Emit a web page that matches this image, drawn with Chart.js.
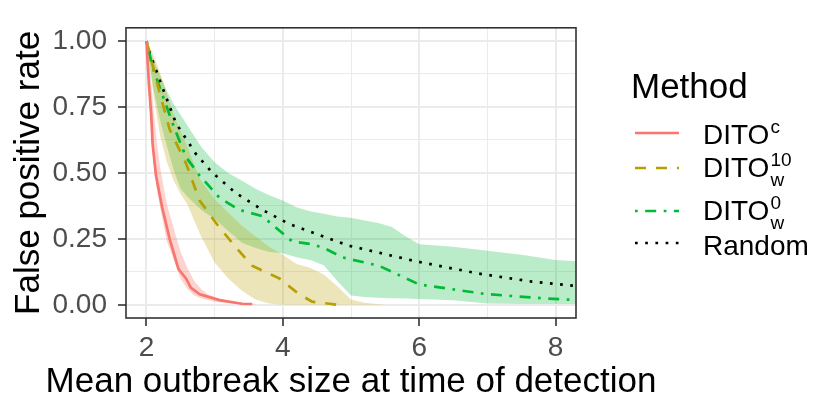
<!DOCTYPE html>
<html>
<head>
<meta charset="utf-8">
<script src="https://cdn.jsdelivr.net/npm/chart.js@4.4.1/dist/chart.umd.min.js"></script>
<style>
  html, body { margin: 0; padding: 0; background: #fff; }
  #wrap { position: relative; width: 814px; height: 405px; }
</style>
</head>
<body>
<div id="wrap"><canvas id="fprChart"></canvas></div>
<script>
// axis ticks (major + minor gridlines)
const xTicks = [2, 3, 4, 5, 6, 7, 8];
const yTicks = [0, 0.125, 0.25, 0.375, 0.5, 0.625, 0.75, 0.875, 1];

// DITO^c
const redX = [2.0, 2.035, 2.07, 2.09, 2.14, 2.23, 2.34, 2.47, 2.58, 2.65, 2.78, 3.07, 3.4, 3.55];
const redY = [1.0, 0.84, 0.72, 0.61, 0.49, 0.37, 0.25, 0.135, 0.10, 0.065, 0.04, 0.018, 0.004, 0.003];
const redBandX = [2.0, 2.05, 2.1, 2.15, 2.2, 2.3, 2.4, 2.5, 2.6, 2.7, 2.8, 2.9, 3.0, 3.2, 3.4, 3.6];
const redUpper = [1.0, 0.9, 0.75, 0.62, 0.52, 0.38, 0.29, 0.2, 0.14, 0.09, 0.06, 0.04, 0.03, 0.015, 0.008, 0.004];
const redLower = [1.0, 0.72, 0.55, 0.44, 0.37, 0.24, 0.17, 0.1, 0.06, 0.035, 0.025, 0.018, 0.012, 0.006, 0.002, 0.0];

// DITO_w^10
const mustardX = [2.0, 2.1, 2.19, 2.34, 2.58, 2.78, 3.02, 3.31, 3.55, 3.95, 4.24, 4.43, 4.68, 4.8];
const mustardY = [1.0, 0.9, 0.807, 0.665, 0.536, 0.395, 0.31, 0.218, 0.148, 0.10, 0.04, 0.012, 0.004, 0.0];
const mustardBandX = [2.0, 2.1, 2.2, 2.3, 2.4, 2.5, 2.6, 2.7, 2.8, 3.0, 3.2, 3.4, 3.6, 3.8, 4.0, 4.2, 4.4, 4.6, 4.8, 5.0, 5.2, 5.5];
const mustardUpper = [1.0, 0.95, 0.88, 0.8, 0.72, 0.66, 0.6, 0.53, 0.47, 0.4, 0.35, 0.3, 0.26, 0.22, 0.19, 0.155, 0.14, 0.115, 0.07, 0.02, 0.008, 0.0];
const mustardLower = [1.0, 0.8, 0.64, 0.54, 0.47, 0.42, 0.38, 0.32, 0.26, 0.16, 0.1, 0.053, 0.02, 0.005, 0, 0, 0, 0, 0, 0, 0, 0];

// DITO_w^0
const greenX = [2.0, 2.09, 2.38, 2.58, 2.78, 3.07, 3.36, 3.70, 4.14, 4.43, 4.63, 4.87, 5.41, 6.0, 6.97, 7.85, 8.3];
const greenY = [1.0, 0.90, 0.69, 0.56, 0.49, 0.406, 0.36, 0.336, 0.24, 0.23, 0.212, 0.18, 0.148, 0.077, 0.041, 0.024, 0.018];
const greenBandX = [2.0, 2.1, 2.2, 2.3, 2.4, 2.5, 2.6, 2.8, 3.0, 3.2, 3.4, 3.6, 3.8, 4.0, 4.2, 4.4, 4.6, 4.8, 5.0, 5.2, 5.4, 5.6, 5.8, 6.0, 6.5, 7.0, 7.5, 8.0, 8.3];
const greenUpper = [1.0, 0.93, 0.87, 0.81, 0.76, 0.72, 0.68, 0.6, 0.54, 0.5, 0.47, 0.44, 0.415, 0.395, 0.37, 0.355, 0.345, 0.335, 0.33, 0.32, 0.31, 0.295, 0.26, 0.23, 0.22, 0.205, 0.19, 0.17, 0.165];
const greenLower = [1.0, 0.82, 0.7, 0.6, 0.51, 0.44, 0.41, 0.36, 0.325, 0.28, 0.235, 0.215, 0.2, 0.195, 0.18, 0.17, 0.15, 0.09, 0.035, 0.03, 0.027, 0.025, 0.024, 0.022, 0.017, 0.005, 0.003, 0.003, 0.003];

// Random
const randomX = [2.0, 2.04, 2.24, 2.43, 2.73, 2.97, 3.31, 3.70, 4.09, 4.53, 4.97, 5.95, 6.88, 7.65, 8.24, 8.3];
const randomY = [1.0, 0.96, 0.82, 0.69, 0.57, 0.50, 0.424, 0.36, 0.307, 0.265, 0.224, 0.165, 0.118, 0.088, 0.073, 0.071];

// legend labels
const methodNames = ['DITO', 'DITO', 'DITO', 'Random'];
const methodSup = ['c', '10', '0', ''];
const methodSub = ['', 'w', 'w', ''];
const xTitle = 'Mean outbreak size at time of detection';

const FONT = '"Liberation Sans", Arial, sans-serif';
const RED = '#F8766D', MUSTARD = '#B79F00', GREEN = '#00BA38';
const lineW = 2.7;
const dashes = [[], [11, 10], [2.7, 7.5, 11, 7.5], [2.7, 7.5]];
const lineColors = [RED, MUSTARD, GREEN, '#000000'];

const pts = (xs, ys) => xs.map((x, i) => ({ x: x, y: ys[i] }));
const isMajorX = v => Math.abs(v % 2) < 1e-9;
const isMajorY = v => Math.abs(v * 4 - Math.round(v * 4)) < 1e-9;

function lineSet(xs, ys, k) {
  return {
    data: pts(xs, ys), borderColor: lineColors[k], borderWidth: lineW,
    borderDash: dashes[k], borderCapStyle: 'butt', pointRadius: 0, fill: false
  };
}
function bandEdge(xs, ys, fillColor) {
  return {
    data: pts(xs, ys), borderWidth: 0, borderColor: 'rgba(0,0,0,0)', pointRadius: 0,
    backgroundColor: fillColor, fill: fillColor ? '-1' : false
  };
}

// panel border, x title (wider than the panel) and the legend
const panelAndLegend = {
  id: 'panelAndLegend',
  afterDraw(chart) {
    const { ctx, chartArea: a } = chart;
    ctx.save();
    ctx.strokeStyle = '#333333';
    ctx.lineWidth = 1.6;
    ctx.strokeRect(a.left, a.top, a.right - a.left, a.bottom - a.top);

    ctx.fillStyle = '#000';
    ctx.textBaseline = 'alphabetic';
    ctx.font = '35px ' + FONT;
    ctx.textAlign = 'center';
    ctx.fillText(xTitle, (a.left + a.right) / 2, 392);
    ctx.textAlign = 'left';
    ctx.fillText('Method', 631, 98);

    const sampleY = [133, 168, 211, 243];
    const baseY = [144, 177, 220, 255];
    for (let k = 0; k < 4; k++) {
      ctx.beginPath();
      ctx.strokeStyle = lineColors[k];
      ctx.lineWidth = lineW;
      ctx.lineCap = 'butt';
      ctx.setLineDash(dashes[k]);
      ctx.moveTo(635, sampleY[k]);
      ctx.lineTo(679, sampleY[k]);
      ctx.stroke();
      ctx.setLineDash([]);

      ctx.font = '28px ' + FONT;
      ctx.fillText(methodNames[k], 703, baseY[k]);
      const w = ctx.measureText(methodNames[k]).width;
      ctx.font = '19px ' + FONT;
      if (methodSup[k]) ctx.fillText(methodSup[k], 703 + w + 1, baseY[k] - 11);
      if (methodSub[k]) ctx.fillText(methodSub[k], 703 + w + 1, baseY[k] + 9);
    }
    ctx.restore();
  }
};

new Chart(document.getElementById('fprChart'), {
  type: 'line',
  data: {
    datasets: [
      lineSet(redX, redY, 0),
      lineSet(mustardX, mustardY, 1),
      lineSet(greenX, greenY, 2),
      lineSet(randomX, randomY, 3),
      bandEdge(redBandX, redUpper, null),
      bandEdge(redBandX, redLower, 'rgba(248,118,109,0.32)'),
      bandEdge(mustardBandX, mustardUpper, null),
      bandEdge(mustardBandX, mustardLower, 'rgba(183,159,0,0.27)'),
      bandEdge(greenBandX, greenUpper, null),
      bandEdge(greenBandX, greenLower, 'rgba(0,186,56,0.27)')
    ]
  },
  options: {
    responsive: true,
    maintainAspectRatio: false,
    animation: false,
    layout: { padding: { top: 10, right: 238, left: 0, bottom: 0 } },
    plugins: { legend: { display: false }, tooltip: { enabled: false } },
    elements: { line: { tension: 0 } },
    scales: {
      x: {
        type: 'linear', min: 1.7, max: 8.3,
        afterBuildTicks: axis => { axis.ticks = xTicks.map(v => ({ value: v })); },
        afterFit: axis => { axis.height = 87; },
        border: { display: false },
        grid: {
          color: '#EBEBEB',
          lineWidth: c => (c.tick && isMajorX(c.tick.value)) ? 2 : 1,
          tickColor: c => (c.tick && isMajorX(c.tick.value)) ? '#333333' : 'rgba(0,0,0,0)',
          tickLength: 8, tickWidth: 1.6
        },
        ticks: {
          autoSkip: false, maxRotation: 0, padding: 5,
          color: '#4D4D4D', font: { family: FONT, size: 28 },
          callback: v => isMajorX(v) ? String(v) : ''
        },
        title: { display: false }
      },
      y: {
        type: 'linear', min: -0.05, max: 1.05,
        afterBuildTicks: axis => { axis.ticks = yTicks.map(v => ({ value: v })); },
        afterFit: axis => { axis.width = 126; },
        border: { display: false },
        grid: {
          color: '#EBEBEB',
          lineWidth: c => (c.tick && isMajorY(c.tick.value)) ? 2 : 1,
          tickColor: c => (c.tick && isMajorY(c.tick.value)) ? '#333333' : 'rgba(0,0,0,0)',
          tickLength: 8, tickWidth: 1.6
        },
        ticks: {
          autoSkip: false, padding: 11,
          color: '#4D4D4D', font: { family: FONT, size: 28 },
          callback: v => isMajorY(v) ? v.toFixed(2) : ''
        },
        title: {
          display: true, text: 'False positive rate',
          color: '#000', font: { family: FONT, size: 35 }, padding: { top: 8, bottom: 0 }
        }
      }
    }
  },
  plugins: [panelAndLegend]
});
</script>
</body>
</html>
